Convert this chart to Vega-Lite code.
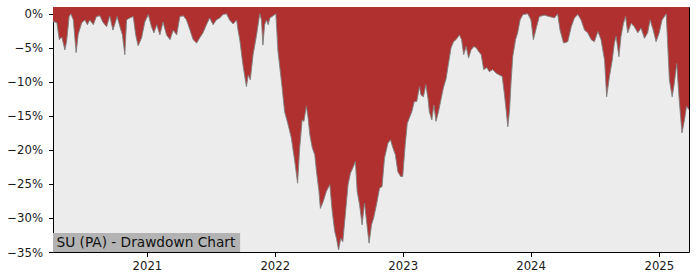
{
  "$schema": "https://vega.github.io/schema/vega-lite/v6.json",
  "width": 636,
  "height": 245,
  "autosize": {"type": "none"},
  "padding": {"left": 53, "top": 7, "right": 11, "bottom": 28},
  "background": "#ffffff",
  "config": {
    "font": "DejaVu Sans",
    "view": {"stroke": "#000000", "strokeWidth": 1, "fill": "#ececec"},
    "axis": {
      "grid": false,
      "domain": false,
      "labelFont": "DejaVu Sans",
      "labelFontSize": 11.7,
      "labelColor": "#1a1a1a",
      "labelOverlap": false,
      "labelBound": false,
      "labelFlush": false,
      "tickColor": "#000000",
      "tickSize": 4.5,
      "tickWidth": 1,
      "title": null
    },
    "axisX": {"labelPadding": 4},
    "axisY": {"labelPadding": 6}
  },
  "datasets": {
    "dd": [
      {"date": "2020-04-08", "dd": -1.1},
      {"date": "2020-04-19", "dd": -1.3},
      {"date": "2020-04-26", "dd": -3.8},
      {"date": "2020-05-03", "dd": -3.4},
      {"date": "2020-05-12", "dd": -5.3},
      {"date": "2020-05-17", "dd": -4.0},
      {"date": "2020-05-24", "dd": -0.4},
      {"date": "2020-05-29", "dd": 0},
      {"date": "2020-06-05", "dd": -0.9},
      {"date": "2020-06-13", "dd": -5.7},
      {"date": "2020-06-19", "dd": -3.0},
      {"date": "2020-06-29", "dd": -1.3},
      {"date": "2020-07-08", "dd": -0.9},
      {"date": "2020-07-15", "dd": -1.6},
      {"date": "2020-07-22", "dd": -0.9},
      {"date": "2020-08-01", "dd": -1.6},
      {"date": "2020-08-10", "dd": -0.4},
      {"date": "2020-08-20", "dd": -0.3},
      {"date": "2020-08-28", "dd": -1.2},
      {"date": "2020-09-08", "dd": -1.9},
      {"date": "2020-09-17", "dd": -0.3},
      {"date": "2020-09-26", "dd": -2.4},
      {"date": "2020-10-08", "dd": -0.4},
      {"date": "2020-10-16", "dd": -1.9},
      {"date": "2020-10-23", "dd": -3.1},
      {"date": "2020-10-30", "dd": -6.0},
      {"date": "2020-11-04", "dd": -0.9},
      {"date": "2020-11-13", "dd": -0.6},
      {"date": "2020-11-23", "dd": -0.4},
      {"date": "2020-11-30", "dd": -3.1},
      {"date": "2020-12-07", "dd": -4.7},
      {"date": "2020-12-17", "dd": -3.5},
      {"date": "2020-12-26", "dd": -1.2},
      {"date": "2021-01-05", "dd": -0.1},
      {"date": "2021-01-14", "dd": -1.9},
      {"date": "2021-01-21", "dd": -2.8},
      {"date": "2021-01-29", "dd": -1.6},
      {"date": "2021-02-07", "dd": -3.1},
      {"date": "2021-02-16", "dd": -1.2},
      {"date": "2021-02-26", "dd": -3.1},
      {"date": "2021-03-08", "dd": -3.8},
      {"date": "2021-03-17", "dd": -2.4},
      {"date": "2021-03-27", "dd": -3.1},
      {"date": "2021-04-05", "dd": -0.4},
      {"date": "2021-04-15", "dd": -0.3},
      {"date": "2021-04-24", "dd": -0.9},
      {"date": "2021-05-04", "dd": -2.4},
      {"date": "2021-05-13", "dd": -3.8},
      {"date": "2021-05-23", "dd": -4.3},
      {"date": "2021-06-01", "dd": -3.5},
      {"date": "2021-06-10", "dd": -2.8},
      {"date": "2021-06-20", "dd": -1.6},
      {"date": "2021-06-29", "dd": -0.6},
      {"date": "2021-07-09", "dd": -1.6},
      {"date": "2021-07-18", "dd": -0.9},
      {"date": "2021-07-28", "dd": -0.6},
      {"date": "2021-08-06", "dd": -0.1},
      {"date": "2021-08-16", "dd": 0},
      {"date": "2021-08-25", "dd": -0.9},
      {"date": "2021-09-04", "dd": -1.5},
      {"date": "2021-09-14", "dd": -0.9},
      {"date": "2021-09-18", "dd": -2.4},
      {"date": "2021-09-23", "dd": -3.8},
      {"date": "2021-10-02", "dd": -7.5},
      {"date": "2021-10-12", "dd": -10.7},
      {"date": "2021-10-17", "dd": -9.0},
      {"date": "2021-10-23", "dd": -9.7},
      {"date": "2021-10-31", "dd": -6.0},
      {"date": "2021-11-10", "dd": -3.1},
      {"date": "2021-11-19", "dd": 0},
      {"date": "2021-11-24", "dd": -0.9},
      {"date": "2021-11-28", "dd": -4.6},
      {"date": "2021-12-03", "dd": -1.6},
      {"date": "2021-12-08", "dd": -0.9},
      {"date": "2021-12-13", "dd": -1.6},
      {"date": "2021-12-18", "dd": -0.6},
      {"date": "2021-12-27", "dd": -0.3},
      {"date": "2022-01-04", "dd": 0},
      {"date": "2022-01-10", "dd": -5.5},
      {"date": "2022-01-20", "dd": -10.0},
      {"date": "2022-01-29", "dd": -14.4},
      {"date": "2022-02-08", "dd": -16.3},
      {"date": "2022-02-17", "dd": -18.2},
      {"date": "2022-02-27", "dd": -21.7},
      {"date": "2022-03-07", "dd": -24.9},
      {"date": "2022-03-13", "dd": -19.7},
      {"date": "2022-03-20", "dd": -15.6},
      {"date": "2022-03-25", "dd": -15.8},
      {"date": "2022-04-01", "dd": -13.6},
      {"date": "2022-04-06", "dd": -15.3},
      {"date": "2022-04-11", "dd": -17.8},
      {"date": "2022-04-18", "dd": -19.7},
      {"date": "2022-04-25", "dd": -20.7},
      {"date": "2022-04-30", "dd": -23.2},
      {"date": "2022-05-07", "dd": -26.1},
      {"date": "2022-05-11", "dd": -28.6},
      {"date": "2022-05-19", "dd": -27.6},
      {"date": "2022-05-28", "dd": -26.1},
      {"date": "2022-06-07", "dd": -25.1},
      {"date": "2022-06-14", "dd": -29.1},
      {"date": "2022-06-21", "dd": -32.0},
      {"date": "2022-06-26", "dd": -33.0},
      {"date": "2022-07-02", "dd": -34.7},
      {"date": "2022-07-08", "dd": -33.0},
      {"date": "2022-07-14", "dd": -33.5},
      {"date": "2022-07-22", "dd": -29.1},
      {"date": "2022-07-29", "dd": -25.1},
      {"date": "2022-08-05", "dd": -23.4},
      {"date": "2022-08-12", "dd": -22.6},
      {"date": "2022-08-19", "dd": -21.7},
      {"date": "2022-08-24", "dd": -26.1},
      {"date": "2022-08-31", "dd": -28.1},
      {"date": "2022-09-07", "dd": -31.0},
      {"date": "2022-09-14", "dd": -27.8},
      {"date": "2022-09-21", "dd": -31.0},
      {"date": "2022-09-27", "dd": -33.7},
      {"date": "2022-10-04", "dd": -31.0},
      {"date": "2022-10-10", "dd": -30.0},
      {"date": "2022-10-18", "dd": -28.1},
      {"date": "2022-10-27", "dd": -25.6},
      {"date": "2022-11-03", "dd": -25.4},
      {"date": "2022-11-10", "dd": -21.2},
      {"date": "2022-11-20", "dd": -19.0},
      {"date": "2022-11-27", "dd": -18.5},
      {"date": "2022-12-04", "dd": -19.7},
      {"date": "2022-12-11", "dd": -20.7},
      {"date": "2022-12-18", "dd": -23.2},
      {"date": "2022-12-26", "dd": -23.9},
      {"date": "2023-01-01", "dd": -23.9},
      {"date": "2023-01-08", "dd": -19.3},
      {"date": "2023-01-14", "dd": -16.1},
      {"date": "2023-01-20", "dd": -15.3},
      {"date": "2023-01-27", "dd": -14.4},
      {"date": "2023-02-03", "dd": -12.9},
      {"date": "2023-02-10", "dd": -12.9},
      {"date": "2023-02-18", "dd": -10.7},
      {"date": "2023-02-22", "dd": -11.9},
      {"date": "2023-03-01", "dd": -12.2},
      {"date": "2023-03-08", "dd": -10.4},
      {"date": "2023-03-14", "dd": -12.4},
      {"date": "2023-03-18", "dd": -14.4},
      {"date": "2023-03-25", "dd": -15.6},
      {"date": "2023-03-31", "dd": -13.4},
      {"date": "2023-04-06", "dd": -15.8},
      {"date": "2023-04-13", "dd": -14.4},
      {"date": "2023-04-21", "dd": -12.4},
      {"date": "2023-04-27", "dd": -10.9},
      {"date": "2023-05-05", "dd": -9.5},
      {"date": "2023-05-11", "dd": -7.5},
      {"date": "2023-05-19", "dd": -5.0},
      {"date": "2023-05-26", "dd": -4.1},
      {"date": "2023-06-02", "dd": -3.8},
      {"date": "2023-06-12", "dd": -3.1},
      {"date": "2023-06-18", "dd": -3.8},
      {"date": "2023-06-24", "dd": -6.0},
      {"date": "2023-07-01", "dd": -4.8},
      {"date": "2023-07-08", "dd": -6.5},
      {"date": "2023-07-15", "dd": -5.3},
      {"date": "2023-07-23", "dd": -4.8},
      {"date": "2023-07-30", "dd": -5.0},
      {"date": "2023-08-05", "dd": -5.5},
      {"date": "2023-08-13", "dd": -6.0},
      {"date": "2023-08-20", "dd": -8.2},
      {"date": "2023-08-29", "dd": -7.9},
      {"date": "2023-09-05", "dd": -8.5},
      {"date": "2023-09-15", "dd": -8.2},
      {"date": "2023-09-24", "dd": -8.7},
      {"date": "2023-10-04", "dd": -9.0},
      {"date": "2023-10-12", "dd": -9.2},
      {"date": "2023-10-18", "dd": -11.7},
      {"date": "2023-10-23", "dd": -14.1},
      {"date": "2023-10-28", "dd": -16.6},
      {"date": "2023-11-02", "dd": -14.1},
      {"date": "2023-11-06", "dd": -10.2},
      {"date": "2023-11-11", "dd": -6.3},
      {"date": "2023-11-19", "dd": -3.8},
      {"date": "2023-11-25", "dd": -2.8},
      {"date": "2023-12-02", "dd": -0.9},
      {"date": "2023-12-10", "dd": -0.1},
      {"date": "2023-12-24", "dd": 0},
      {"date": "2024-01-02", "dd": -0.9},
      {"date": "2024-01-09", "dd": -3.8},
      {"date": "2024-01-17", "dd": -2.1},
      {"date": "2024-01-26", "dd": -0.4},
      {"date": "2024-02-09", "dd": -0.2},
      {"date": "2024-02-23", "dd": -0.4},
      {"date": "2024-03-09", "dd": -0.6},
      {"date": "2024-03-18", "dd": 0},
      {"date": "2024-03-25", "dd": -2.4},
      {"date": "2024-04-04", "dd": -4.3},
      {"date": "2024-04-16", "dd": -4.1},
      {"date": "2024-04-26", "dd": -1.9},
      {"date": "2024-05-05", "dd": -0.6},
      {"date": "2024-05-15", "dd": -0.1},
      {"date": "2024-05-24", "dd": -0.9},
      {"date": "2024-06-03", "dd": -2.4},
      {"date": "2024-06-12", "dd": -2.8},
      {"date": "2024-06-22", "dd": -3.8},
      {"date": "2024-07-01", "dd": -4.1},
      {"date": "2024-07-11", "dd": -2.6},
      {"date": "2024-07-20", "dd": -3.8},
      {"date": "2024-07-30", "dd": -6.8},
      {"date": "2024-08-05", "dd": -12.2},
      {"date": "2024-08-13", "dd": -9.2},
      {"date": "2024-08-21", "dd": -6.8},
      {"date": "2024-08-27", "dd": -4.3},
      {"date": "2024-09-01", "dd": -3.3},
      {"date": "2024-09-09", "dd": -6.3},
      {"date": "2024-09-15", "dd": -3.3},
      {"date": "2024-09-22", "dd": -1.4},
      {"date": "2024-09-28", "dd": -0.4},
      {"date": "2024-10-04", "dd": -2.8},
      {"date": "2024-10-14", "dd": -1.4},
      {"date": "2024-10-23", "dd": -1.9},
      {"date": "2024-11-02", "dd": -2.8},
      {"date": "2024-11-11", "dd": -2.1},
      {"date": "2024-11-21", "dd": -3.6},
      {"date": "2024-11-30", "dd": -2.8},
      {"date": "2024-12-07", "dd": -0.9},
      {"date": "2024-12-16", "dd": -2.4},
      {"date": "2024-12-24", "dd": -4.1},
      {"date": "2025-01-02", "dd": -2.8},
      {"date": "2025-01-10", "dd": -0.9},
      {"date": "2025-01-22", "dd": 0},
      {"date": "2025-01-26", "dd": -4.3},
      {"date": "2025-01-31", "dd": -9.7},
      {"date": "2025-02-08", "dd": -12.2},
      {"date": "2025-02-14", "dd": -10.2},
      {"date": "2025-02-21", "dd": -7.3},
      {"date": "2025-02-28", "dd": -12.6},
      {"date": "2025-03-08", "dd": -17.5},
      {"date": "2025-03-15", "dd": -15.6},
      {"date": "2025-03-21", "dd": -13.6},
      {"date": "2025-03-28", "dd": -14.1}
    ],
    "label": [{"text": "SU (PA) - Drawdown Chart"}]
  },
  "layer": [
    {
      "data": {"name": "dd"},
      "mark": {"type": "area", "color": "#b03030", "clip": true},
      "encoding": {
        "x": {
          "field": "date",
          "type": "temporal",
          "scale": {"domain": [{"year": 2020, "month": 4, "date": 8}, {"year": 2025, "month": 3, "date": 28}]},
          "axis": {
            "values": [
              {"year": 2021, "month": 1, "date": 1},
              {"year": 2022, "month": 1, "date": 1},
              {"year": 2023, "month": 1, "date": 1},
              {"year": 2024, "month": 1, "date": 1},
              {"year": 2025, "month": 1, "date": 1}
            ],
            "format": "%Y",
            "tickCount": 20,
            "labelOverlap": false
          }
        },
        "y": {
          "field": "dd",
          "type": "quantitative",
          "scale": {"domain": [-35, 1], "nice": false, "zero": false},
          "axis": {
            "values": [0, -5, -10, -15, -20, -25, -30, -35],
            "tickCount": 20,
            "labelOverlap": false,
            "labelExpr": "datum.value == 0 ? '0%' : '\u2212' + abs(datum.value) + '%'"
          }
        },
        "y2": {"datum": 1}
      }
    },
    {
      "data": {"name": "dd"},
      "mark": {"type": "line", "color": "#7f7f7f", "strokeWidth": 1, "opacity": 0.9, "clip": true},
      "encoding": {
        "x": {"field": "date", "type": "temporal"},
        "y": {"field": "dd", "type": "quantitative"}
      }
    },
    {
      "data": {"name": "label"},
      "mark": {"type": "rect", "color": "#b3b3b3"},
      "encoding": {
        "x": {"datum": {"year": 2020, "month": 4, "date": 8}, "type": "temporal"},
        "x2": {"datum": {"year": 2021, "month": 9, "date": 24}},
        "y": {"datum": -35, "type": "quantitative"},
        "y2": {"datum": -32.2}
      }
    },
    {
      "data": {"name": "label"},
      "mark": {"type": "text", "align": "left", "baseline": "alphabetic", "dx": 3.5, "dy": -5, "fontSize": 13.7, "font": "DejaVu Sans", "color": "#111111"},
      "encoding": {
        "x": {"datum": {"year": 2020, "month": 4, "date": 8}, "type": "temporal"},
        "y": {"datum": -35, "type": "quantitative"},
        "text": {"field": "text"}
      }
    }
  ]
}
